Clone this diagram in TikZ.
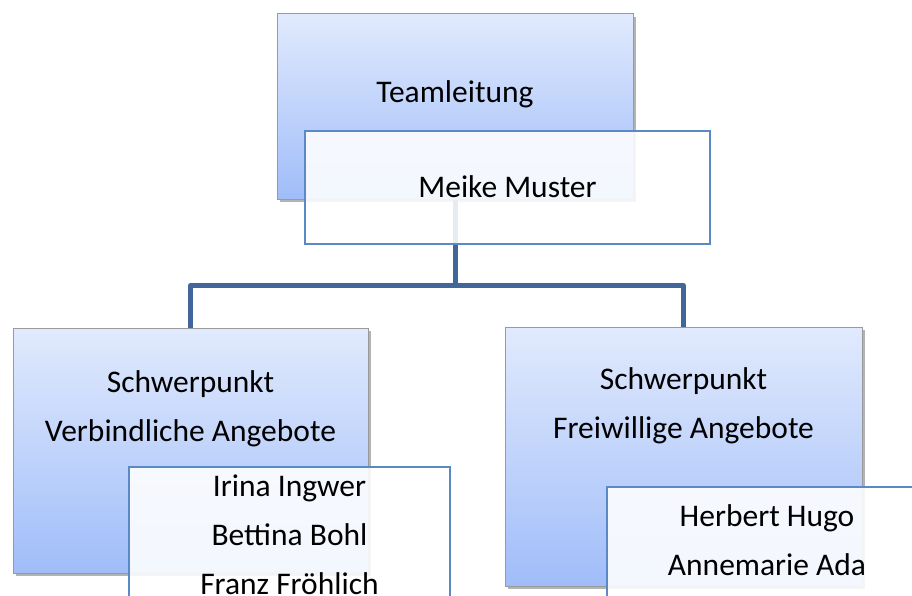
\documentclass[tikz,border=0pt]{standalone}
\usepackage{fontspec}
\setmainfont{Carlito}
\usetikzlibrary{shadows,positioning}
\definecolor{boxtop}{HTML}{E1EAFD}
\definecolor{boxbottom}{HTML}{A0BDF9}
\definecolor{boxline}{HTML}{9A9A9A}
\definecolor{nameline}{HTML}{5A89C6}
\definecolor{linkline}{HTML}{41679A}
\tikzset{
	unitbox/.style={draw=boxline, line width=1pt, top color=boxtop, bottom color=boxbottom,
		drop shadow={shadow xshift=3pt, shadow yshift=-3pt, opacity=0.6}, inner sep=0pt},
	namebox/.style={draw=nameline, line width=1.8pt, fill=white, fill opacity=0.88, inner sep=0pt},
	link/.style={draw=linkline, line width=5pt, line join=round},
	boxtext/.style={font=\fontsize{31.5}{49}\selectfont, align=center, inner sep=0pt, anchor=base}
}

\begin{document}
\begin{tikzpicture}[x=1pt, y=-1pt]
		%%%%% START %%%%%
		\clip (0, 0) rectangle (912, 596);
		
		\node[unitbox, minimum width=356pt, minimum height=185pt] (lead) at (455, 106.5) {};
		\node[boxtext] (leadtext) at ([yshift=-89pt]lead.north) {Teamleitung};
		
		\draw[link] (lead.south) -- ++(0, 86) coordinate (fork) -| (190.5, 328);
		\draw[link] (fork) -| (683.5, 327);
		
		\node[namebox, minimum width=405pt, minimum height=113pt] (meike) at (507.5, 187.5) {};
		\node[boxtext] (meiketext) at ([yshift=-67pt]meike.north) {Meike Muster};
		
		% base anchor sits on the last line
		\node[unitbox, minimum width=355pt, minimum height=245pt] (binding) at (190.5, 450.5) {};
		\node[boxtext] (bindingtext) at ([yshift=-114pt]binding.north) {Schwerpunkt\\Verbindliche Angebote};
		
		\node[unitbox, minimum width=357pt, minimum height=259pt] (free) at (683.5, 456.5) {};
		\node[boxtext] (freetext) at ([yshift=-112pt]free.north) {Schwerpunkt\\Freiwillige Angebote};
		
		\node[namebox, minimum width=321pt, minimum height=173pt] (bindingnames) at (289.5, 553.5) {};
		\node[boxtext] (bindingnamestext) at ([yshift=-128pt]bindingnames.north) {Irina Ingwer\\Bettina Bohl\\Franz Fröhlich};
		
		\node[namebox, minimum width=320pt, minimum height=153pt] (freenames) at (767, 563.5) {};
		\node[boxtext] (freenamestext) at ([yshift=-89pt]freenames.north) {Herbert Hugo\\Annemarie Ada};
		%%%%% END %%%%%
\end{tikzpicture}
\end{document}
